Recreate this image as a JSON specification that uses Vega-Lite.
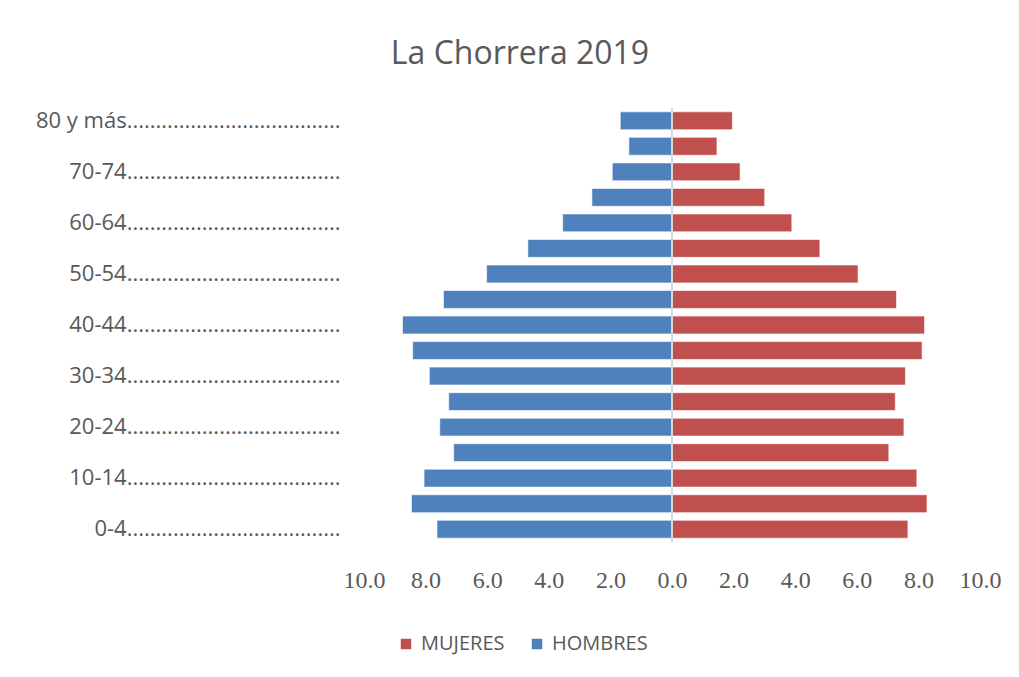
{
  "$schema": "https://vega.github.io/schema/vega-lite/v6.json",
  "autosize": {"type": "none"},
  "width": 616,
  "height": 434,
  "padding": {"left": 364, "top": 108, "right": 39, "bottom": 135},
  "background": "#ffffff",
  "title": {
    "text": "La Chorrera 2019",
    "fontSize": 32,
    "font": "Open Sans",
    "fontWeight": "normal",
    "color": "#595959",
    "anchor": "middle",
    "dx": -152,
    "offset": 36
  },
  "config": {
    "view": {"stroke": null},
    "font": "Open Sans"
  },
  "data": {
    "values": [
      {"edad": "0-4", "sexo": "HOMBRES", "valor": -7.63},
      {"edad": "5-9", "sexo": "HOMBRES", "valor": -8.46},
      {"edad": "10-14", "sexo": "HOMBRES", "valor": -8.05},
      {"edad": "15-19", "sexo": "HOMBRES", "valor": -7.09},
      {"edad": "20-24", "sexo": "HOMBRES", "valor": -7.54},
      {"edad": "25-29", "sexo": "HOMBRES", "valor": -7.25},
      {"edad": "30-34", "sexo": "HOMBRES", "valor": -7.88},
      {"edad": "35-39", "sexo": "HOMBRES", "valor": -8.42},
      {"edad": "40-44", "sexo": "HOMBRES", "valor": -8.75},
      {"edad": "45-49", "sexo": "HOMBRES", "valor": -7.42},
      {"edad": "50-54", "sexo": "HOMBRES", "valor": -6.02},
      {"edad": "55-59", "sexo": "HOMBRES", "valor": -4.68},
      {"edad": "60-64", "sexo": "HOMBRES", "valor": -3.55},
      {"edad": "65-69", "sexo": "HOMBRES", "valor": -2.6},
      {"edad": "70-74", "sexo": "HOMBRES", "valor": -1.94},
      {"edad": "75-79", "sexo": "HOMBRES", "valor": -1.4},
      {"edad": "80 y más", "sexo": "HOMBRES", "valor": -1.68},
      {"edad": "0-4", "sexo": "MUJERES", "valor": 7.66},
      {"edad": "5-9", "sexo": "MUJERES", "valor": 8.28},
      {"edad": "10-14", "sexo": "MUJERES", "valor": 7.95},
      {"edad": "15-19", "sexo": "MUJERES", "valor": 7.04},
      {"edad": "20-24", "sexo": "MUJERES", "valor": 7.53},
      {"edad": "25-29", "sexo": "MUJERES", "valor": 7.25},
      {"edad": "30-34", "sexo": "MUJERES", "valor": 7.58},
      {"edad": "35-39", "sexo": "MUJERES", "valor": 8.12},
      {"edad": "40-44", "sexo": "MUJERES", "valor": 8.2},
      {"edad": "45-49", "sexo": "MUJERES", "valor": 7.29},
      {"edad": "50-54", "sexo": "MUJERES", "valor": 6.04},
      {"edad": "55-59", "sexo": "MUJERES", "valor": 4.8},
      {"edad": "60-64", "sexo": "MUJERES", "valor": 3.89},
      {"edad": "65-69", "sexo": "MUJERES", "valor": 3.01},
      {"edad": "70-74", "sexo": "MUJERES", "valor": 2.21},
      {"edad": "75-79", "sexo": "MUJERES", "valor": 1.46},
      {"edad": "80 y más", "sexo": "MUJERES", "valor": 1.96}
    ]
  },
  "layer": [
    {
      "mark": {"type": "bar", "stroke": "#ffffff", "strokeWidth": 1, "strokeOpacity": 0.6},
      "encoding": {
        "y": {
          "field": "edad",
          "type": "nominal",
          "sort": ["80 y más", "75-79", "70-74", "65-69", "60-64", "55-59", "50-54", "45-49", "40-44", "35-39", "30-34", "25-29", "20-24", "15-19", "10-14", "5-9", "0-4"],
          "scale": {"paddingInner": 0.3, "paddingOuter": 0.15},
          "axis": {
            "title": null,
            "values": ["80 y más", "70-74", "60-64", "50-54", "40-44", "30-34", "20-24", "10-14", "0-4"],
            "labelExpr": "datum.label + '.....................................'",
            "labelFont": "Open Sans",
            "labelFontSize": 22,
            "labelColor": "#595959",
            "labelPadding": 24,
            "ticks": false,
            "domain": false,
            "labelLimit": 400
          }
        },
        "x": {
          "field": "valor",
          "type": "quantitative",
          "scale": {"domain": [-10, 10], "nice": false},
          "axis": {
            "title": null,
            "values": [-10, -8, -6, -4, -2, 0, 2, 4, 6, 8, 10],
            "labelExpr": "format(abs(datum.value), '.1f')",
            "labelFont": "Liberation Serif",
            "labelFontSize": 24,
            "labelColor": "#595959",
            "labelPadding": 26,
            "labelFlush": false,
            "labelOverlap": false,
            "ticks": false,
            "domain": false,
            "grid": false
          }
        },
        "color": {
          "field": "sexo",
          "type": "nominal",
          "scale": {"domain": ["MUJERES", "HOMBRES"], "range": ["#C0504D", "#4F81BD"]},
          "legend": {
            "title": null,
            "orient": "none",
            "direction": "horizontal",
            "legendX": 32,
            "legendY": 526,
            "symbolType": "square",
            "symbolSize": 110,
            "symbolStrokeWidth": 0,
            "labelFont": "Open Sans",
            "labelFontSize": 20,
            "labelColor": "#595959",
            "columnPadding": 22,
            "labelOffset": 5
          }
        }
      }
    },
    {
      "mark": {"type": "rule", "color": "#d9d9d9", "strokeWidth": 1.5},
      "encoding": {"x": {"datum": 0}}
    }
  ]
}
